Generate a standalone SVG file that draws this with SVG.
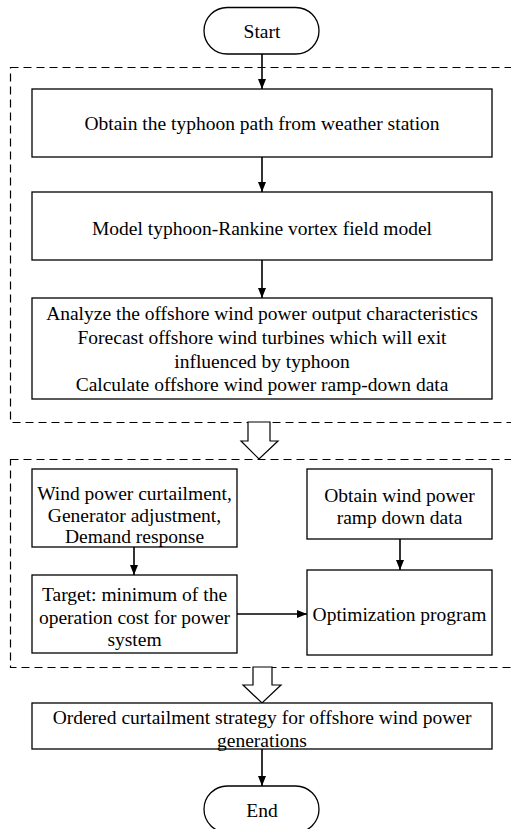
<svg xmlns="http://www.w3.org/2000/svg" width="511" height="829" viewBox="0 0 511 829">
<defs>
<style>
.b{fill:#fff;stroke:#000;stroke-width:1.3}
.d{fill:none;stroke:#000;stroke-width:1.2;stroke-dasharray:8 5}
.c{fill:none;stroke:#000;stroke-width:1.6}
.h{fill:#fff;stroke:#000;stroke-width:1.2}
text{font-family:"Liberation Serif","Times New Roman",serif;font-size:19.5px;fill:#000;text-anchor:middle;dominant-baseline:central}
</style>
<marker id="ah" markerWidth="10" markerHeight="10" viewBox="0 0 10 10" refX="10" refY="5" orient="auto" markerUnits="userSpaceOnUse">
<path d="M0,1 L10,5 L0,9 Z" fill="#000"/>
</marker>
</defs>
<rect width="511" height="829" fill="#fff"/>
<g id="groups">
<rect class="d" x="10.5" y="67.5" width="510" height="355"/>
<rect class="d" x="10.5" y="459.5" width="510" height="208"/>
</g>
<g id="connectors">
<line class="c" x1="262" y1="54" x2="262" y2="89" marker-end="url(#ah)"/>
<line class="c" x1="262" y1="157" x2="262" y2="192" marker-end="url(#ah)"/>
<line class="c" x1="262" y1="260" x2="262" y2="298" marker-end="url(#ah)"/>
<line class="c" x1="134" y1="547" x2="134" y2="575" marker-end="url(#ah)"/>
<line class="c" x1="400" y1="539" x2="400" y2="570" marker-end="url(#ah)"/>
<line class="c" x1="237" y1="614" x2="307" y2="614" marker-end="url(#ah)"/>
<line class="c" x1="262" y1="749" x2="262" y2="786" marker-end="url(#ah)"/>
<path class="h" d="M248,422 L270,422 L270,441 L278,441 L259,459 L241,441 L248,441 Z"/>
<path class="h" d="M253,667 L272,667 L272,685 L281,685 L262,703 L243,685 L253,685 Z"/>
</g>
<g id="start">
<rect class="b" x="204" y="7.5" width="115" height="46.5" rx="23.25"/>
<text x="262" y="31">Start</text>
</g>
<g id="obtain-path">
<rect class="b" x="32" y="89" width="460" height="68"/>
<text x="262" y="123">Obtain the typhoon path from weather station</text>
</g>
<g id="model-vortex">
<rect class="b" x="32" y="192" width="460" height="68"/>
<text x="262" y="228">Model typhoon-Rankine vortex field model</text>
</g>
<g id="analyze">
<rect class="b" x="32" y="298" width="460" height="101"/>
<text x="262" y="313">Analyze the offshore wind power output characteristics</text>
<text x="262" y="337">Forecast offshore wind turbines which will exit</text>
<text x="262" y="361">influenced by typhoon</text>
<text x="262" y="384">Calculate offshore wind power ramp-down data</text>
</g>
<g id="curtailment">
<rect class="b" x="32" y="469" width="205" height="78"/>
<text x="134.5" y="493">Wind power curtailment,</text>
<text x="134.5" y="515">Generator adjustment,</text>
<text x="134.5" y="536">Demand response</text>
</g>
<g id="target">
<rect class="b" x="32" y="575" width="205" height="78"/>
<text x="134.5" y="594">Target: minimum of the</text>
<text x="134.5" y="617">operation cost for power</text>
<text x="134.5" y="639">system</text>
</g>
<g id="ramp-data">
<rect class="b" x="307" y="469" width="185" height="70"/>
<text x="399.5" y="495">Obtain wind power</text>
<text x="399.5" y="517">ramp down data</text>
</g>
<g id="optimization">
<rect class="b" x="307" y="570" width="185" height="85"/>
<text x="399.5" y="614">Optimization program</text>
</g>
<g id="ordered">
<rect class="b" x="32" y="703" width="460" height="46"/>
<text x="262" y="717">Ordered curtailment strategy for offshore wind power</text>
<text x="262" y="740">generations</text>
</g>
<g id="end">
<rect class="b" x="204" y="786" width="115" height="46.5" rx="23.25"/>
<text x="262" y="810">End</text>
</g>
</svg>
